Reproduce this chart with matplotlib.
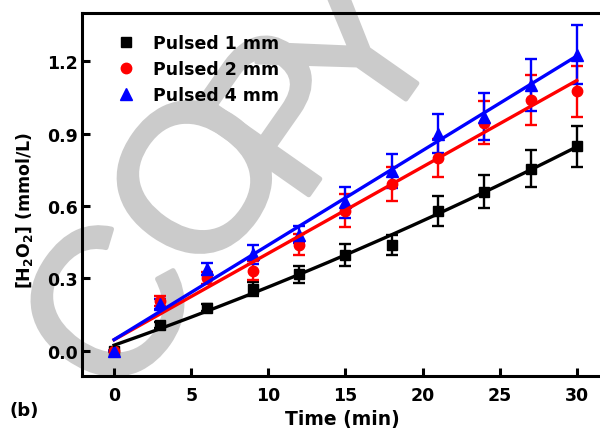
import numpy as np
import matplotlib
matplotlib.use("Agg")
import matplotlib.pyplot as plt
import matplotlib.patheffects as pe
from matplotlib.lines import Line2D

plt.rcParams["font.family"] = ["DejaVu Sans"]
plt.rcParams["font.weight"] = "bold"
plt.rcParams["mathtext.fontset"] = "custom"
plt.rcParams["mathtext.rm"] = "DejaVu Sans:bold"
plt.rcParams["mathtext.bf"] = "DejaVu Sans:bold"
plt.rcParams["mathtext.it"] = "DejaVu Sans:bold"

# Sampling times (min)
time_min = [0, 3, 6, 9, 12, 15, 18, 21, 24, 27, 30]

# H2O2 concentration (mmol/L) and standard deviations
h2o2_1mm = [0.0, 0.105, 0.178, 0.255, 0.316, 0.396, 0.439, 0.579, 0.659, 0.755, 0.847]
err_1mm = [0.0, 0.012, 0.015, 0.03, 0.035, 0.045, 0.042, 0.062, 0.068, 0.077, 0.084]

h2o2_2mm = [0.0, 0.207, 0.302, 0.331, 0.44, 0.58, 0.69, 0.80, 0.945, 1.04, 1.075]
err_2mm = [0.0, 0.02, 0.025, 0.04, 0.045, 0.068, 0.07, 0.078, 0.09, 0.105, 0.105]

h2o2_4mm = [0.0, 0.193, 0.338, 0.40, 0.48, 0.615, 0.745, 0.90, 0.97, 1.103, 1.227]
err_4mm = [0.0, 0.02, 0.025, 0.04, 0.035, 0.065, 0.07, 0.08, 0.097, 0.108, 0.122]

series_labels = ["Pulsed 1 mm", "Pulsed 2 mm", "Pulsed 4 mm"]
x_ticks = [0, 5, 10, 15, 20, 25, 30]
y_ticks = [0.0, 0.3, 0.6, 0.9, 1.2]

W, H = 600, 431
fig = plt.figure(figsize=(W / 100, H / 100), dpi=100)
ax = fig.add_axes([0.1367, 0.1253, 0.8683, 0.8422])
ax.set_facecolor("none")

# Light diagonal "COPY" watermark behind the plot, laid out letter by letter
wm_angle = np.deg2rad(55)
wm_em = 150 / 72 * 100                     # font size in pixels
u = np.array([np.cos(wm_angle), -np.sin(wm_angle)])  # along the baseline (pixel coords, y down)
base_centre = np.array([290.0, 167.0])
letters = ["C", "O", "P", "Y"]
starts = [0.0, 0.722, 1.5, 2.167]
nudges = [(0, 0), (0, 0), (-1, 57), (-8, 110)]
for ch, s, (dx, dy) in zip(letters, starts, nudges):
    px = base_centre + (s - 1.417) * wm_em * u + np.array([dx, dy])
    fig.text(px[0] / W, 1 - px[1] / H, ch, rotation=55, rotation_mode="anchor",
             ha="left", va="baseline", fontsize=150, color="#cbcbcb",
             family="Liberation Sans", fontweight="normal", zorder=-10,
             path_effects=[pe.withStroke(linewidth=3.5, foreground="#cbcbcb",
                                         capstyle="round", joinstyle="round")])

t = np.asarray(time_min, dtype=float)
t_fit = np.linspace(0, 30, 200)

styles = [
    (h2o2_1mm, err_1mm, "black", "s", 7.0, 2),
    (h2o2_2mm, err_2mm, "#ff0000", "o", 7.5, 1),
    (h2o2_4mm, err_4mm, "#0000ff", "^", 8.0, 1),
]

for y, e, c, m, ms, deg in styles:
    y = np.asarray(y)
    ax.errorbar(t, y, yerr=e, fmt=m, color=c, ms=ms, mec=c, mfc=c,
                elinewidth=1.7, capsize=4.2, capthick=1.7, zorder=3)
    coef = np.polyfit(t, y, deg)
    ax.plot(t_fit, np.polyval(coef, t_fit), color=c, lw=2.4, zorder=4)

ax.set_xlim(-2.08, 31.7)
ax.set_ylim(-0.105, 1.40)
ax.set_xticks(x_ticks)
ax.set_yticks(y_ticks)
ax.set_yticklabels([f"{v:.1f}" for v in y_ticks])

for side in ["left", "bottom", "top"]:
    ax.spines[side].set_linewidth(2.2)
ax.spines["right"].set_visible(False)

ax.tick_params(direction="in", length=6, width=2.2, labelsize=12.5, pad=3)
ax.tick_params(axis="x", pad=7)
ax.tick_params(top=False, right=False)

ax.set_xlabel("Time (min)", fontsize=13.5, fontweight="bold", labelpad=4)
ax.set_ylabel(r"[H$_\mathbf{2}$O$_\mathbf{2}$] (mmol/L)", fontsize=12.5,
              fontweight="bold")
ax.yaxis.set_label_coords(-0.091, 0.46)

handles = [
    Line2D([], [], ls="none", marker="s", color="black", ms=7),
    Line2D([], [], ls="none", marker="o", color="#ff0000", ms=7.5),
    Line2D([], [], ls="none", marker="^", color="#0000ff", ms=8),
]
ax.legend(handles, series_labels, loc="upper left", frameon=False,
          bbox_to_anchor=(0.03, 0.985), prop={"size": 12.5, "weight": "bold"},
          handletextpad=0.8, labelspacing=0.45, handlelength=1.5)

fig.text(0.04, 0.047, "(b)", fontsize=13, fontweight="bold",
         ha="center", va="center")

fig.savefig("out.png", dpi=100)
